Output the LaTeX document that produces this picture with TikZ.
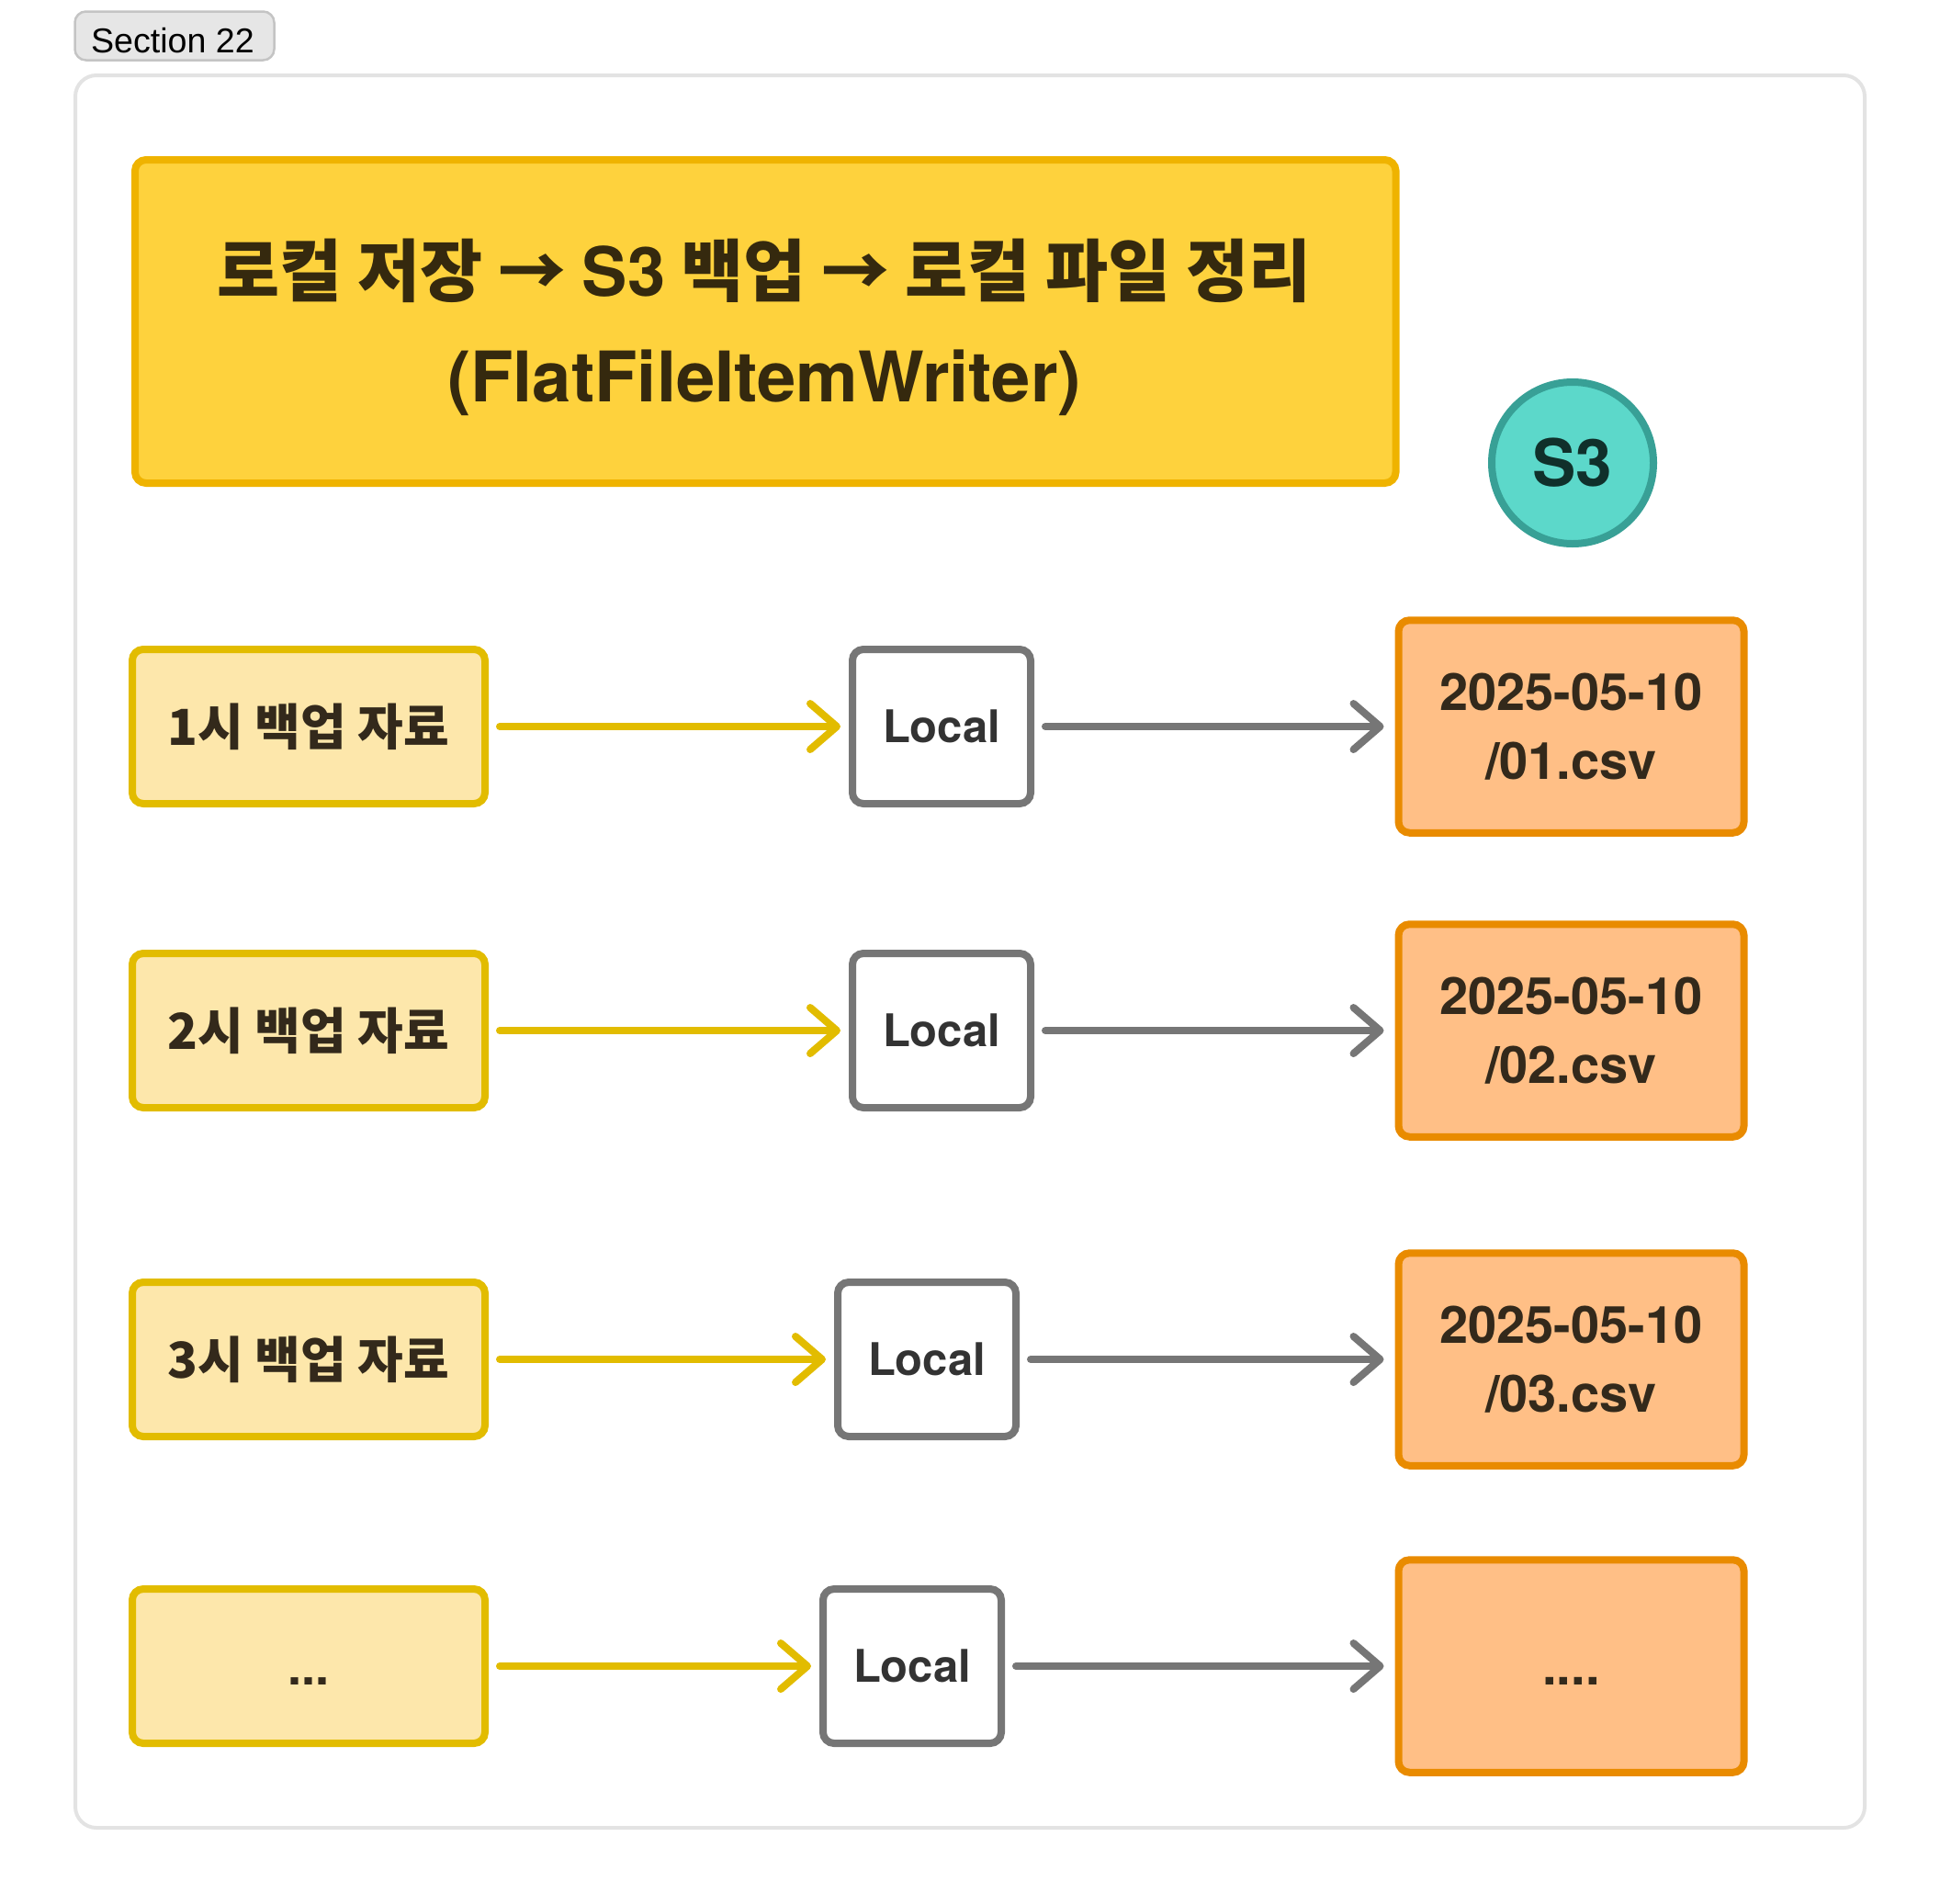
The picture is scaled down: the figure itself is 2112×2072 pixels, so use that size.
\documentclass[tikz,border=0pt]{standalone}
\usepackage{fontspec}
\setmainfont{TeX Gyre Heros}
\newfontfamily\hf{Noto Sans CJK KR}
\newfontfamily\tagfont{Liberation Sans}
\usetikzlibrary{arrows.meta}
\definecolor{frameline}{HTML}{E3E3E3}
\definecolor{tagfill}{HTML}{E6E6E6}
\definecolor{tagline}{HTML}{C4C4C4}
\definecolor{titlefill}{HTML}{FED23D}
\definecolor{titleline}{HTML}{EFB300}
\definecolor{titletxt}{HTML}{35290E}
\definecolor{srcfill}{HTML}{FDE7AB}
\definecolor{srcline}{HTML}{E2BC00}
\definecolor{loctxt}{HTML}{333333}
\definecolor{locline}{HTML}{767676}
\definecolor{dstfill}{HTML}{FFBF86}
\definecolor{dstline}{HTML}{E98B00}
\definecolor{txt}{HTML}{33291B}
\definecolor{sfill}{HTML}{5CD8CA}
\definecolor{sline}{HTML}{38A096}
\definecolor{stxt}{HTML}{10302B}
\tikzset{
  box/.style={draw, line width=4pt, rounded corners=6pt, inner sep=0pt, align=center},
  srcbox/.style={box, draw=srcline, fill=srcfill, minimum width=192pt, minimum height=84pt,
    text=txt, font=\hf\bfseries\fontsize{27}{32}\selectfont},
  locbox/.style={box, draw=locline, fill=white, minimum width=97pt, minimum height=84pt,
    text=loctxt, font=\bfseries\fontsize{24.5}{30}\selectfont},
  dstbox/.style={box, draw=dstline, fill=dstfill, minimum width=188pt, minimum height=115.75pt,
    text=txt, font=\bfseries\fontsize{28}{37.5}\selectfont},
  flow/.style={line width=4pt, line cap=round, shorten <=6pt,
    -{Straight Barb[length=14.5pt,width=25pt,round]}},
  yflow/.style={flow, draw=srcline, shorten >=4.5pt},
  gflow/.style={flow, draw=locline, shorten >=6pt},
  titletext/.style={anchor=base, text=titletxt, inner sep=0pt},
}
\begin{document}
\begin{tikzpicture}[x=0.5pt,y=-0.5pt]
\useasboundingbox (0,0) rectangle (2112,2072);
% section tag
\node[draw=tagline, fill=tagfill, line width=1.25pt, rounded corners=6pt, minimum width=108.5pt, minimum height=26.5pt, inner sep=0pt] (tag) at (190,39) {};
\node[anchor=base, inner sep=0pt, font=\tagfont\fontsize{18.8}{22}\selectfont] (tagtext) at (188,57) {Section 22};
% frame
\draw[frameline, line width=2pt, rounded corners=11.5pt] (82,82) rectangle (2030,1990);
% title
\node[box, draw=titleline, fill=titlefill, minimum width=686.25pt, minimum height=176pt] (title) at (833.25,350) {};
\node[titletext, font=\bfseries\fontsize{37}{45}\selectfont] (t1) at (832,322) {{\hf 로컬 저장 → }S3{\hf\ 백업 → 로컬 파일 정리}};
\node[titletext, font=\bfseries\fontsize{38}{45}\selectfont] (t2) at (832,437) {(FlatFileItemWriter)};
% S3
\node[circle, draw=sline, fill=sfill, line width=4pt, minimum size=88pt, inner sep=0pt, text=stxt, font=\bfseries\fontsize{35.5}{40}\selectfont] (s3) at (1712,504) {S3};
% row 1
\node[srcbox] (l1) at (336,791) {1시 백업 자료};
\node[locbox] (c1) at (1025,791) {Local};
\node[dstbox] (d1) at (1710.5,791) {2025-05-10\\/01.csv};
% row 2
\node[srcbox] (l2) at (336,1122) {2시 백업 자료};
\node[locbox] (c2) at (1025,1122) {Local};
\node[dstbox] (d2) at (1710.5,1122) {2025-05-10\\/02.csv};
% row 3
\node[srcbox] (l3) at (336,1480) {3시 백업 자료};
\node[locbox] (c3) at (1009,1480) {Local};
\node[dstbox] (d3) at (1710.5,1480) {2025-05-10\\/03.csv};
% row 4
\node[srcbox] (l4) at (336,1814) {\vphantom{시}{\rmfamily\bfseries ...}};
\node[locbox] (c4) at (993,1814) {Local};
\node[dstbox] (d4) at (1710.5,1814) {\vphantom{0}....};
% arrows
\draw[yflow] (l1) -- (c1);
\draw[gflow] (c1) -- (d1);
\draw[yflow] (l2) -- (c2);
\draw[gflow] (c2) -- (d2);
\draw[yflow] (l3) -- (c3);
\draw[gflow] (c3) -- (d3);
\draw[yflow] (l4) -- (c4);
\draw[gflow] (c4) -- (d4);
\end{tikzpicture}
\end{document}
